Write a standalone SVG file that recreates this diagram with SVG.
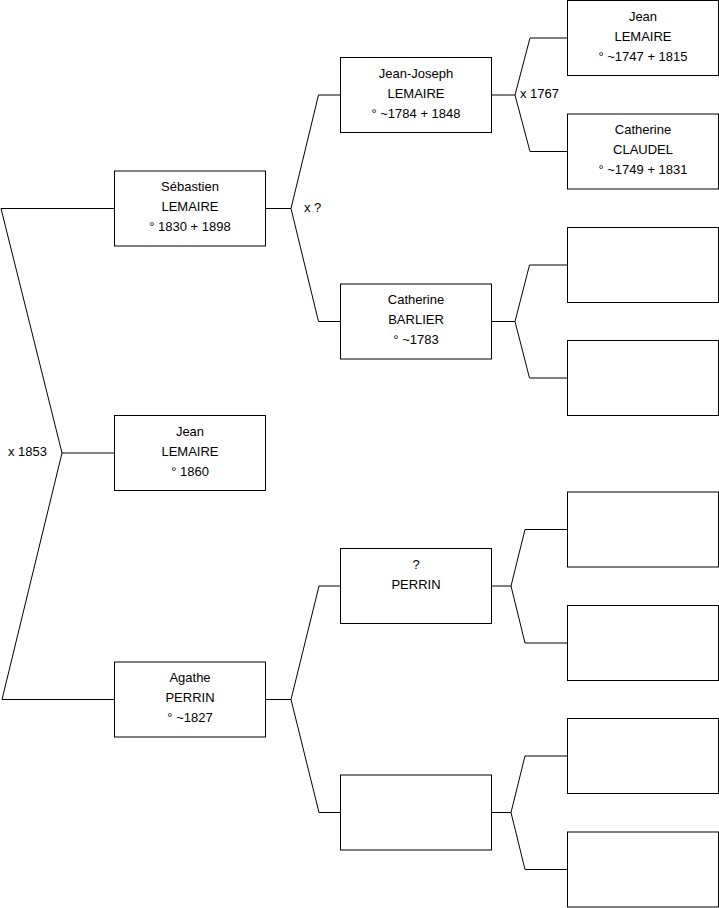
<svg xmlns="http://www.w3.org/2000/svg" width="719" height="908" viewBox="0 0 719 908">
<style>
.box{fill:#fff;stroke:#000;stroke-width:1}
.ln{fill:none;stroke:#000;stroke-width:1}
text{font-family:"Liberation Sans",Arial,sans-serif;font-size:13px;fill:#000}
.c{text-anchor:middle}
</style>
<rect width="719" height="908" fill="#fff"/>
<g id="connectors">
<polyline class="ln" points="114.5,208.5 1,208.5 62,453 2,699.5 114.5,699.5"/>
<line class="ln" x1="62" y1="453" x2="114.5" y2="453"/>
<line class="ln" x1="265.5" y1="208.5" x2="291" y2="208.5"/>
<polyline class="ln" points="340.5,95 318.5,95 291,208.5 318.5,321.5 340.5,321.5"/>
<line class="ln" x1="265.5" y1="699.5" x2="291" y2="699.5"/>
<polyline class="ln" points="340.5,586 319,586 291,699.5 319,812.5 340.5,812.5"/>
<line class="ln" x1="491.5" y1="95" x2="515" y2="95"/>
<polyline class="ln" points="567.5,38 530,38 515,95 530,151.5 567.5,151.5"/>
<line class="ln" x1="491.5" y1="321.5" x2="515" y2="321.5"/>
<polyline class="ln" points="567.5,265 529.5,265 515,321.5 529.5,378 567.5,378"/>
<line class="ln" x1="491.5" y1="586" x2="511" y2="586"/>
<polyline class="ln" points="567.5,529.5 525,529.5 511,586 525,643 567.5,643"/>
<line class="ln" x1="491.5" y1="812.5" x2="511" y2="812.5"/>
<polyline class="ln" points="567.5,756 525,756 511,812.5 525,869.5 567.5,869.5"/>
<text x="8" y="456">x 1853</text>
<text x="304" y="212">x ?</text>
<text x="520" y="98">x 1767</text>
</g>
<g id="sebastien">
<rect class="box" x="114.5" y="171" width="151" height="75"/>
<text class="c" x="190" y="191">Sébastien</text>
<text class="c" x="190" y="211">LEMAIRE</text>
<text class="c" x="190" y="231">° 1830 + 1898</text>
</g>
<g id="jean">
<rect class="box" x="114.5" y="415.5" width="151" height="75"/>
<text class="c" x="190" y="435.5">Jean</text>
<text class="c" x="190" y="455.5">LEMAIRE</text>
<text class="c" x="190" y="475.5">° 1860</text>
</g>
<g id="agathe">
<rect class="box" x="114.5" y="662" width="151" height="75"/>
<text class="c" x="190" y="682">Agathe</text>
<text class="c" x="190" y="702">PERRIN</text>
<text class="c" x="190" y="722">° ~1827</text>
</g>
<g id="jean-joseph">
<rect class="box" x="340.5" y="57.5" width="151" height="75"/>
<text class="c" x="416" y="77.5">Jean-Joseph</text>
<text class="c" x="416" y="97.5">LEMAIRE</text>
<text class="c" x="416" y="117.5">° ~1784 + 1848</text>
</g>
<g id="catherine-barlier">
<rect class="box" x="340.5" y="284" width="151" height="75"/>
<text class="c" x="416" y="304">Catherine</text>
<text class="c" x="416" y="324">BARLIER</text>
<text class="c" x="416" y="344">° ~1783</text>
</g>
<g id="perrin">
<rect class="box" x="340.5" y="548.5" width="151" height="75"/>
<text class="c" x="416" y="568.5">?</text>
<text class="c" x="416" y="588.5">PERRIN</text>
</g>
<g id="empty-2-4">
<rect class="box" x="340.5" y="775" width="151" height="75"/>
</g>
<g id="jean-lemaire-1747">
<rect class="box" x="567.5" y="0.5" width="151" height="75"/>
<text class="c" x="643" y="20.5">Jean</text>
<text class="c" x="643" y="40.5">LEMAIRE</text>
<text class="c" x="643" y="60.5">° ~1747 + 1815</text>
</g>
<g id="catherine-claudel">
<rect class="box" x="567.5" y="114" width="151" height="75"/>
<text class="c" x="643" y="134">Catherine</text>
<text class="c" x="643" y="154">CLAUDEL</text>
<text class="c" x="643" y="174">° ~1749 + 1831</text>
</g>
<g id="empty-3-3"><rect class="box" x="567.5" y="227.5" width="151" height="75"/></g>
<g id="empty-3-4"><rect class="box" x="567.5" y="340.5" width="151" height="75"/></g>
<g id="empty-3-5"><rect class="box" x="567.5" y="492" width="151" height="75"/></g>
<g id="empty-3-6"><rect class="box" x="567.5" y="605.5" width="151" height="75"/></g>
<g id="empty-3-7"><rect class="box" x="567.5" y="718.5" width="151" height="75"/></g>
<g id="empty-3-8"><rect class="box" x="567.5" y="832" width="151" height="75"/></g>
</svg>
